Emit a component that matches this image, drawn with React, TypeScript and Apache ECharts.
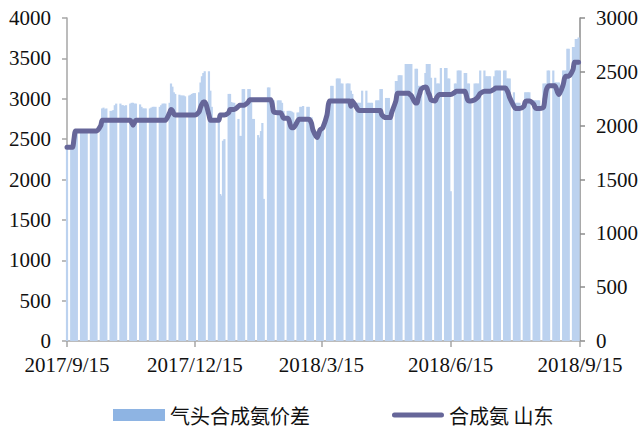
import React, { useEffect, useRef } from "react";
import * as echarts from "echarts";

// Trading days run Fri 2017/9/15 .. Fri 2018/9/14 (weekdays only)
const firstDay = "2017/9/15";
const lastDay = "2018/9/14";
const xTickDates = ["2017/9/15", "2017/12/15", "2018/3/15", "2018/6/15", "2018/9/15"];

// 气头合成氨价差 (left axis), one row per week (Mon..Fri)
const spreadValues = [
  2420,
  2420, 2420, 2550, 2600, 2600,
  2600, 2590, 2600, 2610, 2600,
  2600, 2600, 2590, 2600, 2600,
  2650, 2880, 2890, 2870, 2880,
  2850, 2850, 2860, 2920, 2940,
  2940, 2920, 2920, 2910, 2920,
  2940, 2950, 2950, 2940, 2940,
  2930, 2900, 2880, 2880, 2880,
  2880, 2890, 2900, 2900, 2900,
  2900, 2920, 2940, 2940, 2940,
  2950, 3190, 3150, 3080, 3060,
  3050, 3040, 3040, 3040, 3030,
  3040, 3050, 3060, 3070, 3070,
  3080, 3200, 3280, 3320, 3340,
  3340, 3100, 2900, 2750, 2750,
  2750, 1820, 1800, 2480, 2500,
  3060, 3060, 2960, 2950, 2950,
  2750, 2540, 2540, 3120, 3120,
  3120, 3120, 3010, 2750, 2750,
  2550, 2520, 2600, 2700, 1760,
  3140, 3140, 2980, 2980, 2980,
  2980, 2980, 2980, 2950, 2850,
  2850, 2850, 2850, 2840, 2830,
  2830, 2830, 2900, 2900, 2910,
  2900, 2900, 2770, 2770, 2650,
  2600, 2600, 2620, 2600, 2680,
  2890, 2900, 3000, 3160, 3160,
  3250, 3250, 3250, 3190, 3190,
  3190, 3190, 3190, 3100, 3060,
  2950, 2950, 2950, 2950, 3100,
  3100, 2950, 2950, 2950, 2950,
  2980, 2980, 2980, 3120, 3120,
  3010, 3010, 3010, 2830, 2830,
  3220, 3220, 3290, 3290, 3290,
  3430, 3430, 3430, 3430, 3430,
  3370, 3370, 3160, 3160, 3160,
  3320, 3430, 3430, 3430, 3260,
  3260, 3190, 3190, 3190, 3380,
  3380, 3380, 3250, 3250, 1855,
  3190, 3190, 3350, 3350, 3350,
  3320, 3320, 3190, 3190, 3000,
  3190, 3190, 3190, 3190, 3350,
  3350, 3280, 3280, 3280, 3280,
  3280, 3350, 3350, 3350, 3350,
  3350, 3350, 3250, 3250, 3250,
  3080, 2950, 2950, 2950, 2950,
  2950, 3080, 3080, 3080, 3080,
  2980, 2980, 2980, 2980, 2980,
  3190, 3190, 3190, 3350, 3350,
  3350, 3200, 3200, 3200, 3200,
  3350, 3350, 3350, 3620, 3620,
  3640, 3640, 3740, 3740, 3760,
];

// 合成氨 山东 (right axis), one row per week (Mon..Fri)
const priceValues = [
  1800,
  1800, 1800, 1880, 1950, 1950,
  1950, 1950, 1950, 1950, 1950,
  1950, 1950, 1950, 1950, 1950,
  2000, 2050, 2050, 2050, 2050,
  2050, 2050, 2050, 2050, 2050,
  2050, 2050, 2050, 2050, 2050,
  2050, 2030, 2005, 2030, 2050,
  2050, 2050, 2050, 2050, 2050,
  2050, 2050, 2050, 2050, 2050,
  2050, 2050, 2050, 2050, 2050,
  2120, 2150, 2140, 2110, 2100,
  2100, 2100, 2100, 2100, 2100,
  2100, 2100, 2100, 2100, 2100,
  2130, 2170, 2200, 2220, 2220,
  2100, 2050, 2050, 2050, 2050,
  2050, 2100, 2100, 2100, 2100,
  2120, 2150, 2150, 2150, 2150,
  2180, 2190, 2190, 2190, 2190,
  2220, 2240, 2240, 2240, 2240,
  2240, 2240, 2240, 2240, 2240,
  2240, 2240, 2240, 2200, 2130,
  2120, 2120, 2120, 2100, 2070,
  2070, 2050, 2000, 1980, 1980,
  2040, 2060, 2060, 2060, 2060,
  2060, 2060, 2050, 2020, 1960,
  1890, 1920, 1960, 1970, 1980,
  2100, 2200, 2230, 2230, 2230,
  2230, 2230, 2230, 2230, 2230,
  2230, 2230, 2230, 2180, 2230,
  2170, 2150, 2140, 2140, 2140,
  2140, 2140, 2140, 2140, 2140,
  2140, 2140, 2140, 2140, 2100,
  2075, 2075, 2075, 2075, 2120,
  2230, 2300, 2300, 2300, 2300,
  2300, 2300, 2300, 2290, 2280,
  2210, 2210, 2260, 2300, 2340,
  2360, 2350, 2310, 2280, 2240,
  2230, 2260, 2280, 2290, 2290,
  2290, 2290, 2290, 2290, 2290,
  2310, 2320, 2320, 2320, 2320,
  2320, 2290, 2240, 2230, 2230,
  2240, 2250, 2260, 2280, 2300,
  2320, 2320, 2320, 2320, 2320,
  2340, 2350, 2350, 2350, 2350,
  2350, 2350, 2330, 2300, 2260,
  2180, 2160, 2160, 2160, 2160,
  2180, 2220, 2230, 2230, 2230,
  2200, 2170, 2160, 2160, 2160,
  2170, 2250, 2330, 2360, 2370,
  2370, 2370, 2350, 2310, 2290,
  2380, 2440, 2460, 2460, 2460,
  2520, 2590, 2590, 2590, 2590,
];

const seriesNames = ["气头合成氨价差", "合成氨 山东"];

const DAY = 86400000;

function toTime(s: string): number {
  const [y, m, d] = s.split("/").map(Number);
  return Date.UTC(y, m - 1, d);
}

const origin = toTime(xTickDates[0]);
const toOffset = (s: string) => Math.round((toTime(s) - origin) / DAY);

function tradingDayOffsets(): number[] {
  const out: number[] = [];
  const start = toTime(firstDay);
  const end = toTime(lastDay);
  for (let t = start; t <= end; t += DAY) {
    const w = new Date(t).getUTCDay();
    if (w !== 0 && w !== 6) out.push(Math.round((t - origin) / DAY));
  }
  return out;
}

function formatOffset(v: number): string {
  const d = new Date(origin + Math.round(v) * DAY);
  return `${d.getUTCFullYear()}/${d.getUTCMonth() + 1}/${d.getUTCDate()}`;
}

const AXIS_FONT = '"Liberation Serif", "DejaVu Serif", serif';
const CJK_FONT = '"Noto Sans CJK SC", "Noto Sans", sans-serif';
const LINE_ICON =
  "path://M2.5,0 L49.5,0 A2.5,2.5 0 0 1 49.5,5 L2.5,5 A2.5,2.5 0 0 1 2.5,0 Z";

export default function App() {
  const ref = useRef<HTMLDivElement>(null);
  useEffect(() => {
    if (!ref.current) return;
    const chart = echarts.init(ref.current, undefined, { renderer: "svg" });
    const days = tradingDayOffsets();
    const ticks = xTickDates.map(toOffset);
    const barData = days.map((t, i) => [t, spreadValues[i]]);
    const lineData = days.map((t, i) => [t, priceValues[i]]);
    const axisColor = "#a6a6a6";
    const labelColor = "#111111";
    const plain = (v: number) => String(v);
    chart.setOption({
      animation: false,
      backgroundColor: "#ffffff",
      grid: { left: 67, right: 61, top: 18, bottom: 89, containLabel: false },
      legend: {
        left: 108,
        top: 400,
        itemWidth: 52,
        itemHeight: 12,
        itemGap: 82,
        textStyle: { fontFamily: CJK_FONT, fontSize: 20, color: labelColor },
        data: [
          { name: seriesNames[0], icon: "rect", itemStyle: { color: "#8EB4E3" } },
          { name: seriesNames[1], icon: LINE_ICON },
        ],
      },
      xAxis: {
        type: "value",
        min: ticks[0],
        max: ticks[ticks.length - 1],
        axisLine: { show: true, onZero: false, lineStyle: { color: axisColor, width: 1.5 } },
        axisTick: {
          show: true,
          customValues: ticks,
          length: 6,
          lineStyle: { color: axisColor, width: 1.5 },
        },
        axisLabel: {
          customValues: ticks,
          margin: 13,
          fontFamily: AXIS_FONT,
          fontSize: 21,
          color: labelColor,
          formatter: (v: number) => formatOffset(v),
        },
        splitLine: { show: false },
      },
      yAxis: [
        {
          type: "value",
          position: "left",
          min: 0,
          max: 4000,
          interval: 500,
          axisLine: { show: true, lineStyle: { color: axisColor, width: 1.5 } },
          axisTick: { show: true, length: 5, lineStyle: { color: axisColor, width: 1.5 } },
          axisLabel: {
            margin: 16,
            fontFamily: AXIS_FONT,
            fontSize: 21,
            color: labelColor,
            formatter: plain,
          },
          splitLine: { show: false },
        },
        {
          type: "value",
          position: "right",
          min: 0,
          max: 3000,
          interval: 500,
          axisLine: { show: true, lineStyle: { color: "#8c8c8c", width: 1.5 } },
          axisTick: { show: true, length: 5, lineStyle: { color: "#8c8c8c", width: 1.5 } },
          axisLabel: {
            margin: 16,
            fontFamily: AXIS_FONT,
            fontSize: 21,
            color: labelColor,
            formatter: plain,
          },
          splitLine: { show: false },
        },
      ],
      series: [
        {
          name: seriesNames[0],
          type: "bar",
          yAxisIndex: 0,
          data: barData,
          barWidth: 2.2,
          itemStyle: { color: "#bcd2ef" },
        },
        {
          name: seriesNames[1],
          type: "line",
          yAxisIndex: 1,
          data: lineData,
          showSymbol: false,
          symbol: "none",
          smooth: 0.25,
          lineStyle: { width: 5, color: "#666699", cap: "round", join: "round" },
          itemStyle: { color: "#666699" },
        },
      ],
    });
    return () => chart.dispose();
  }, []);
  return (
    <div
      ref={ref}
      style={{ position: "fixed", left: 0, top: 0, width: 641, height: 430 }}
    />
  );
}
